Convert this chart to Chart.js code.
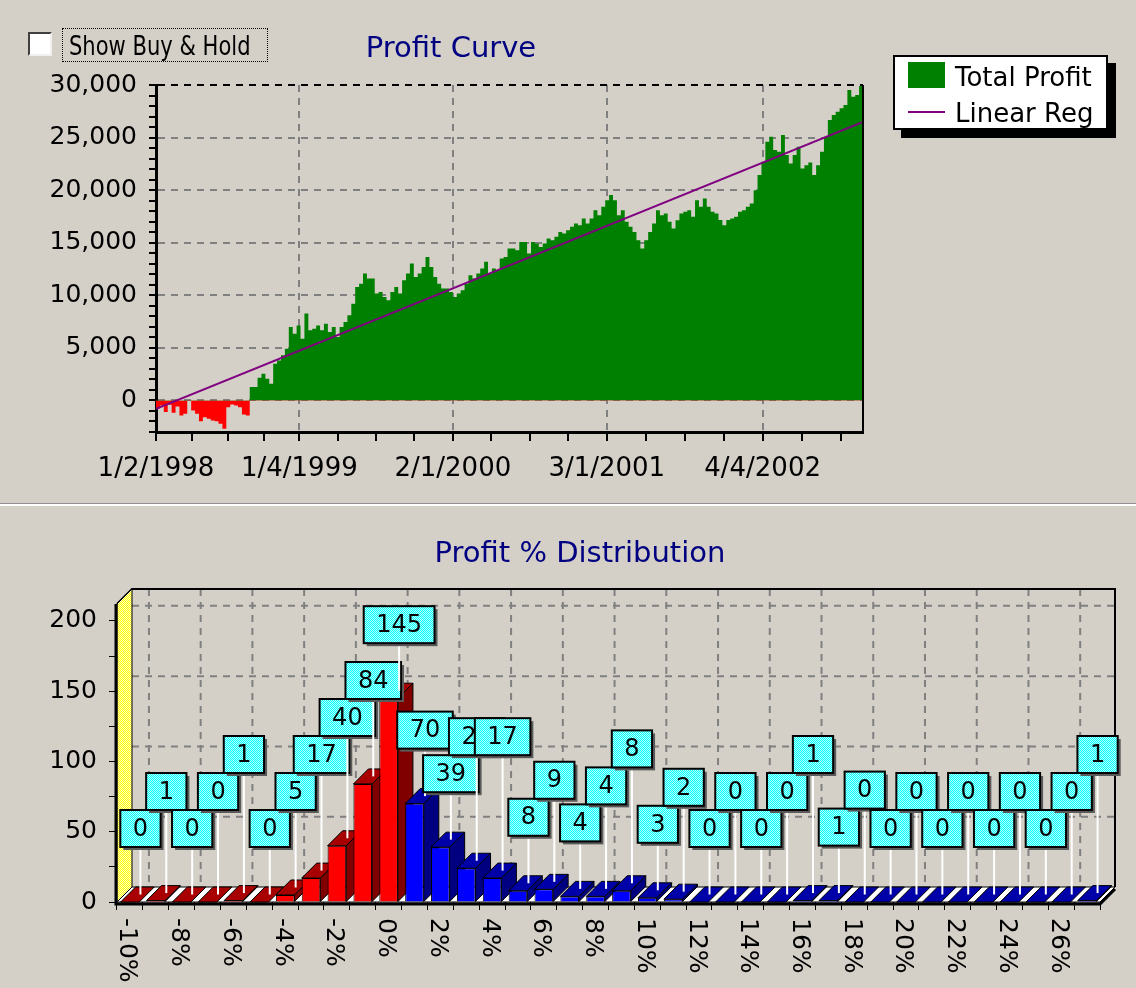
<!DOCTYPE html>
<html>
<head>
<meta charset="utf-8">
<title>Profit Curve</title>
<script src="https://cdn.jsdelivr.net/npm/chart.js@4/dist/chart.umd.min.js"></script>
<style>
  body { margin: 0; background: #d4d0c8; font-family: "DejaVu Sans", sans-serif; }
  #page { position: relative; width: 1136px; height: 988px; overflow: hidden; background: #d4d0c8; }
  #curveChart { position: absolute; left: 0; top: 0; }
  #distChart { position: absolute; left: 0; top: 508px; }
  .title { position: absolute; transform: translate(-50%, -50%); font-size: 29px; line-height: 1; color: #000080; white-space: nowrap; }
  #check { position: absolute; left: 28px; top: 32px; width: 20px; height: 20px; background: #fff;
           border: 2px solid; border-color: #404040 #f0f0f0 #f0f0f0 #404040; }
  #checkLabel { position: absolute; left: 62px; top: 28px; width: 204px; height: 32px; border: 1px dotted #000; }
  #checkLabel span { position: absolute; left: 6px; top: 50%; font-size: 27px; line-height: 1; white-space: nowrap;
                     transform: translateY(-50%) scaleX(0.78); transform-origin: left center; }
  #legend { position: absolute; left: 893px; top: 55px; width: 211px; height: 71px; background: #fff;
            border: 2px solid #000; box-shadow: 8px 8px 0 #000; }
  #legend .swatch { position: absolute; left: 13px; top: 5px; width: 37px; height: 26px; background: #008000; }
  #legend .line { position: absolute; left: 13px; top: 54px; width: 37px; height: 2px; background: #800080; }
  #legend .txt { position: absolute; left: 60px; transform: translateY(-50%); font-size: 26px; line-height: 1; white-space: nowrap; }
  #divider { position: absolute; left: 0; top: 503px; width: 1136px; height: 1px; background: #909090; border-bottom: 2px solid #fff; }
</style>
</head>
<body>
<div id="page">
  <canvas id="curveChart" width="1136" height="503"></canvas>
  <canvas id="distChart" width="1136" height="480"></canvas>
  <div id="check"></div>
  <div id="checkLabel"><span>Show Buy &amp; Hold</span></div>
  <div class="title" style="left:451px; top:47px;">Profit Curve</div>
  <div id="legend">
    <span class="swatch"></span><span class="txt" style="top:20px;">Total Profit</span>
    <span class="line"></span><span class="txt" style="top:56px;">Linear Reg</span>
  </div>
  <div id="divider"></div>
  <div class="title" style="left:580px; top:552px;">Profit % Distribution</div>
</div>

<script>
// ---- profit curve data (one value every 10 days from 1/2/1998) ----
const dayStep = 10;
const profitValues = [
  -800, -480, -1100, -400, -1170, -570, -1430, -1270, -60, -950,
  -1270, -1970, -1590, -1750, -1900, -1970, -2220, -2700, -640, -380,
  -480, -640, -1330, -1430, 1270, 1270, 2160, 2540, 2060, 1590,
  3490, 3810, 4290, 4920, 6990, 6350, 7140, 5870, 8260, 6670,
  6830, 7140, 6670, 7300, 6510, 6990, 6030, 6990, 7460, 8100,
  9200, 10800, 11110, 12070, 11590, 11590, 10160, 10320, 9840, 9530,
  10320, 10800, 10160, 11430, 12070, 13020, 11750, 12070, 12700, 13650,
  12700, 11750, 11110, 10640, 10640, 10320, 9840, 10160, 10480, 11110,
  11910, 11590, 12070, 12540, 13180, 12070, 12540, 12380, 13490, 13650,
  14450, 14450, 14290, 15080, 15080, 13970, 15080, 14920, 14600, 14920,
  15400, 15240, 15560, 16030, 15870, 16190, 16510, 16830, 16670, 17300,
  16830, 17300, 18100, 17620, 18420, 19050, 19530, 19050, 17620, 18100,
  16990, 16510, 16030, 15240, 14450, 15240, 16030, 16830, 18100, 17620,
  17780, 16990, 16350, 17140, 17780, 17940, 18100, 17460, 19050, 18420,
  19210, 18420, 17940, 17780, 17150, 16670, 17150, 17300, 17460, 17940,
  18100, 18420, 18730, 20000, 21430, 22700, 24610, 25080, 23810, 23650,
  25240, 23340, 22540, 23340, 24130, 22070, 22380, 22640, 21430, 22380,
  23650, 25080, 26670, 27150, 27460, 27780, 28100, 29530, 28890, 29050,
  29900, 29530
];
const regStartEnd = [-800, 26500];
const dateLabels = ['1/2/1998', '1/4/1999', '2/1/2000', '3/1/2001', '4/4/2002'];
const profitTicks = { min: -3000, max: 30000, minor: 1000, major: 5000 };

// ---- profit % distribution data ----
const binLabels = [
  '-10%', '-9%', '-8%', '-7%', '-6%', '-5%', '-4%', '-3%', '-2%', '-1%', '0%',
  '1%', '2%', '3%', '4%', '5%', '6%', '7%', '8%', '9%', '10%',
  '11%', '12%', '13%', '14%', '15%', '16%', '17%', '18%', '19%', '20%',
  '21%', '22%', '23%', '24%', '25%', '26%', '27%'
];
const binCounts = [
  0, 1, 0, 0, 1, 0, 5, 17, 40, 84, 145,
  70, 39, 24, 17, 8, 9, 4, 4, 8,
  3, 2, 0, 0, 0, 0, 1, 1, 0, 0,
  0, 0, 0, 0, 0, 0, 0, 1
];
const distTicks = { max: 212, minor: 25, major: 50 };

Chart.defaults.font.family = '"DejaVu Sans", sans-serif';
Chart.defaults.color = '#000';

function dateParts(label) {
  const [m, d, y] = label.split('/').map(Number);
  return Date.UTC(y, m - 1, d);
}
function dayOf(label) {
  return Math.round((dateParts(label) - dateParts(dateLabels[0])) / 864e5);
}

const majorDays = dateLabels.map(dayOf);
const lastDay = (profitValues.length - 1) * dayStep;

function buildDayTicks(scale) {
  const out = [];
  majorDays.forEach((day, i) => {
    const step = i + 1 < majorDays.length ? (majorDays[i + 1] - day) / 4 : (day - majorDays[i - 1]) / 4;
    out.push({ value: day });
    for (let q = 1; q < 4; q++) {
      if (day + q * step <= lastDay) out.push({ value: day + q * step });
    }
  });
  scale.ticks = out;
}

const frameLines = {
  id: 'frameLines',
  afterDatasetsDraw(chart) {
    const { ctx, chartArea: a } = chart;
    ctx.save();
    ctx.strokeStyle = '#000';
    ctx.lineWidth = 2;
    ctx.beginPath();
    ctx.moveTo(a.right, a.top);
    ctx.lineTo(a.right, a.bottom);
    ctx.stroke();
    ctx.restore();
  }
};

new Chart(document.getElementById('curveChart'), {
  type: 'line',
  data: {
    datasets: [
      {
        label: 'Linear Reg',
        data: [{ x: 0, y: regStartEnd[0] }, { x: lastDay, y: regStartEnd[1] }],
        borderColor: '#800080',
        borderWidth: 2,
        pointRadius: 0,
        fill: false,
        order: 0
      },
      {
        label: 'Total Profit',
        data: profitValues.map((v, i) => ({ x: i * dayStep, y: v })),
        borderWidth: 0,
        pointRadius: 0,
        stepped: true,
        fill: { target: 'origin', above: '#008000', below: '#ff0000' },
        order: 1
      }
    ]
  },
  options: {
    responsive: false,
    animation: false,
    devicePixelRatio: 1,
    layout: { padding: { top: 85, right: 273, left: 0, bottom: 0 } },
    plugins: { legend: { display: false }, title: { display: false }, tooltip: { enabled: false } },
    scales: {
      x: {
        type: 'linear',
        min: 0,
        max: lastDay,
        afterBuildTicks: buildDayTicks,
        afterFit: s => { s.height = 71; },
        border: { display: true, color: '#000', width: 3, dash: [7, 6] },
        grid: {
          color: c => (c.tick && c.tick.value > 0 && majorDays.includes(c.tick.value)) ? '#808080' : 'rgba(0,0,0,0)',
          lineWidth: 2,
          tickColor: '#000',
          tickLength: 9
        },
        ticks: {
          autoSkip: false,
          maxRotation: 0,
          padding: 13,
          font: { size: 26 },
          callback: v => {
            const i = majorDays.indexOf(v);
            return i >= 0 ? dateLabels[i] : '';
          }
        }
      },
      y: {
        min: profitTicks.min,
        max: profitTicks.max,
        afterFit: s => { s.width = 156; },
        border: { display: true, color: '#000', width: 3, dash: [7, 6] },
        grid: {
          color: c => {
            if (!c.tick) return 'rgba(0,0,0,0)';
            const v = c.tick.value;
            if (v === profitTicks.max) return '#000';
            return (v >= 0 && v % profitTicks.major === 0) ? '#808080' : 'rgba(0,0,0,0)';
          },
          lineWidth: 2,
          tickColor: '#000',
          tickLength: 7
        },
        ticks: {
          stepSize: profitTicks.minor,
          autoSkip: false,
          padding: 12,
          font: { size: 25 },
          callback: v => (v >= 0 && v % profitTicks.major === 0) ? v.toLocaleString('en-US') : ''
        }
      }
    }
  },
  plugins: [frameLines]
});

// ---- 3D bar chart helpers ----
const DEPTH = 15;

function poly(ctx, pts, fill, stroke, width) {
  ctx.beginPath();
  ctx.moveTo(pts[0][0], pts[0][1]);
  for (let i = 1; i < pts.length; i++) ctx.lineTo(pts[i][0], pts[i][1]);
  ctx.closePath();
  if (fill) { ctx.fillStyle = fill; ctx.fill(); }
  if (stroke) { ctx.strokeStyle = stroke; ctx.lineWidth = width || 1; ctx.stroke(); }
}

function ditherPattern(ctx, a, b) {
  const c = document.createElement('canvas');
  c.width = 2; c.height = 2;
  const p = c.getContext('2d');
  p.fillStyle = a; p.fillRect(0, 0, 2, 2);
  p.fillStyle = b; p.fillRect(1, 0, 1, 1); p.fillRect(0, 1, 1, 1);
  return ctx.createPattern(c, 'repeat');
}

const isLoss = binLabels.map(l => parseFloat(l) <= 0);
const frontColors = isLoss.map(n => n ? '#ff0000' : '#0000ff');
const topColors = isLoss.map(n => n ? '#a80000' : '#0000a8');
const sideColors = isLoss.map(n => n ? '#800000' : '#000080');

const box3d = {
  id: 'box3d',
  beforeDatasetsDraw(chart) {
    const { ctx, chartArea: a, scales: { x, y } } = chart;
    const d = DEPTH;
    ctx.save();
    // back wall grid
    ctx.setLineDash([7, 6]);
    ctx.strokeStyle = '#808080';
    ctx.lineWidth = 2;
    y.ticks.forEach(t => {
      if (t.value === 0 || t.value % distTicks.major) return;
      const py = y.getPixelForValue(t.value) - d;
      ctx.beginPath(); ctx.moveTo(a.left + d, py); ctx.lineTo(a.right + d, py); ctx.stroke();
    });
    chart.data.labels.forEach((lab, i) => {
      if (i % 2) return;
      const px = x.getPixelForValue(i) + d + 4;
      ctx.beginPath(); ctx.moveTo(px, a.top - d); ctx.lineTo(px, a.bottom - d); ctx.stroke();
    });
    ctx.setLineDash([]);
    // back wall frame
    ctx.strokeStyle = '#000';
    ctx.lineWidth = 2;
    ctx.beginPath();
    ctx.moveTo(a.left, a.top);
    ctx.lineTo(a.left + d, a.top - d);
    ctx.lineTo(a.right + d, a.top - d);
    ctx.lineTo(a.right + d, a.bottom - d);
    ctx.stroke();
    // left wall
    poly(ctx, [[a.left, a.bottom], [a.left, a.top], [a.left + d, a.top - d], [a.left + d, a.bottom - d]],
      ditherPattern(ctx, '#ffff00', '#ffffc0'), '#000');
    // floor
    poly(ctx, [[a.left, a.bottom], [a.right, a.bottom], [a.right + d, a.bottom - d], [a.left + d, a.bottom - d]], '#ffffff', '#000');
    // bar sides and tops
    const meta = chart.getDatasetMeta(0);
    meta.data.forEach((bar, i) => {
      const p = bar.getProps(['x', 'y', 'base', 'width'], true);
      const l = p.x - p.width / 2, r = p.x + p.width / 2;
      if (p.base - p.y > 0.5) {
        poly(ctx, [[r, p.y], [r, p.base], [r + d, p.base - d], [r + d, p.y - d]], sideColors[i], '#000');
      }
      poly(ctx, [[l, p.y], [r, p.y], [r + d, p.y - d], [l + d, p.y - d]], topColors[i], '#000');
    });
    ctx.restore();
  },
  afterDatasetsDraw(chart) {
    const { ctx, chartArea: a } = chart;
    const d = DEPTH;
    ctx.save();
    ctx.strokeStyle = '#000';
    ctx.lineWidth = 3;
    ctx.beginPath();
    ctx.moveTo(a.left - 1, a.top);
    ctx.lineTo(a.left - 1, a.bottom + 2);
    ctx.lineTo(a.right, a.bottom + 2);
    ctx.lineTo(a.right + d, a.bottom + 2 - d);
    ctx.stroke();
    ctx.restore();
  }
};

const callouts = {
  id: 'callouts',
  afterDatasetsDraw(chart) {
    const { ctx } = chart;
    const meta = chart.getDatasetMeta(0);
    const values = chart.data.datasets[0].data;
    const h = 37, gap = 55, half = DEPTH / 2;
    const fill = ditherPattern(ctx, '#00ffff', '#b8ffff');
    ctx.save();
    ctx.font = '24px "DejaVu Sans"';
    const boxes = [];
    meta.data.forEach((bar, i) => {
      const text = String(values[i]);
      const w = ctx.measureText(text).width + 25;
      const cx = bar.x + half + 3;
      const box = { l: cx - w / 2, r: cx + w / 2, b: bar.y - gap, t: bar.y - gap - h, cx, text, tip: bar.y - half };
      // lift the mark once above the nearest earlier mark it collides with
      for (let j = boxes.length - 1; j >= 0; j--) {
        const o = boxes[j];
        if (box.l < o.r && box.r > o.l && box.t < o.b && box.b > o.t) {
          box.b = o.t;
          box.t = o.t - h;
          break;
        }
      }
      boxes.push(box);
    });
    boxes.forEach(b => {
      ctx.strokeStyle = '#ffffff';
      ctx.lineWidth = 2;
      ctx.beginPath();
      ctx.moveTo(b.cx, b.b);
      ctx.lineTo(b.cx, b.tip);
      ctx.stroke();
      ctx.fillStyle = '#5a5a5a';
      ctx.fillRect(b.l + 3, b.t + 3, b.r - b.l, h);
      ctx.fillStyle = fill;
      ctx.fillRect(b.l, b.t, b.r - b.l, h);
      ctx.strokeStyle = '#000';
      ctx.lineWidth = 2;
      ctx.strokeRect(b.l, b.t, b.r - b.l, h);
      ctx.fillStyle = '#000';
      ctx.textAlign = 'center';
      ctx.textBaseline = 'middle';
      ctx.fillText(b.text, b.cx, b.t + h / 2 + 1);
    });
    ctx.restore();
  },
  afterDraw(chart) {
    const { ctx, chartArea: a, scales: { x } } = chart;
    ctx.save();
    ctx.font = '25px "DejaVu Sans"';
    ctx.fillStyle = '#000';
    ctx.textAlign = 'left';
    ctx.textBaseline = 'middle';
    chart.data.labels.forEach((lab, i) => {
      if (i % 2) return;
      ctx.save();
      ctx.translate(x.getPixelForValue(i) - 3, a.bottom + 16);
      ctx.rotate(Math.PI / 2);
      ctx.fillText(lab, 0, 0);
      ctx.restore();
    });
    ctx.restore();
  }
};

new Chart(document.getElementById('distChart'), {
  type: 'bar',
  data: {
    labels: binLabels,
    datasets: [{
      label: 'Profit %',
      data: binCounts,
      backgroundColor: frontColors,
      borderColor: '#000',
      borderWidth: 1,
      barPercentage: 0.72,
      categoryPercentage: 1
    }]
  },
  options: {
    responsive: false,
    animation: false,
    devicePixelRatio: 1,
    layout: { padding: { top: 96, right: 36, left: 0, bottom: 0 } },
    plugins: { legend: { display: false }, title: { display: false }, tooltip: { enabled: false } },
    scales: {
      x: {
        afterFit: s => { s.height = 86; },
        border: { display: false },
        grid: { drawOnChartArea: false, tickColor: '#000', tickLength: 8 },
        ticks: { display: false }
      },
      y: {
        min: 0,
        max: distTicks.max,
        afterFit: s => { s.width = 117; },
        border: { display: false },
        grid: { drawOnChartArea: false, tickColor: '#000', tickLength: 8 },
        ticks: {
          stepSize: distTicks.minor,
          includeBounds: false,
          autoSkip: false,
          padding: 12,
          font: { size: 25 },
          callback: v => v % distTicks.major === 0 ? v : ''
        }
      }
    }
  },
  plugins: [box3d, callouts]
});
</script>
</body>
</html>
